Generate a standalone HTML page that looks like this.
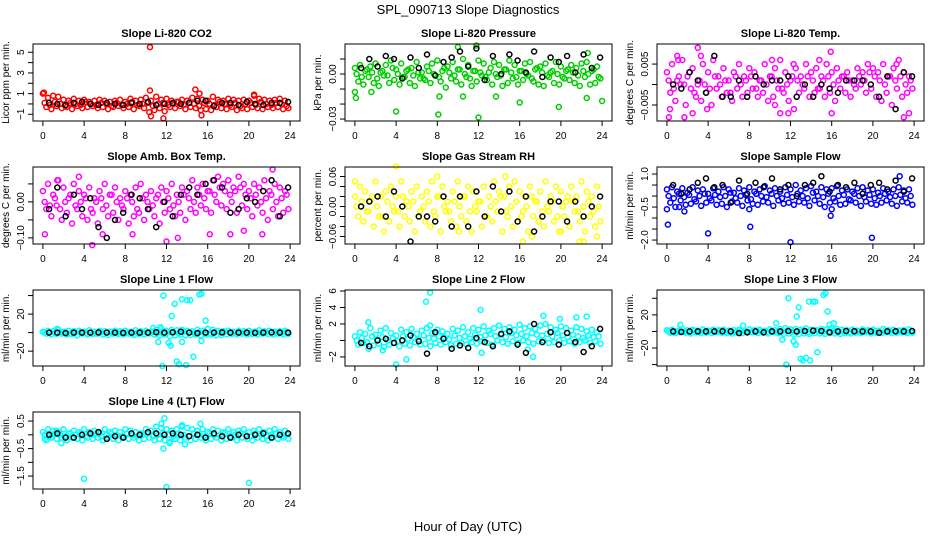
<!DOCTYPE html>
<html><head><meta charset="utf-8"><style>
html,body{margin:0;padding:0;background:#fff;}
svg{display:block;font-family:"Liberation Sans",Arial,sans-serif;}
</style></head><body>
<svg id="fig" width="936" height="540" viewBox="0 0 936 540" xmlns="http://www.w3.org/2000/svg">
<rect width="936" height="540" fill="#fff"/>
<text x="468" y="14" text-anchor="middle" font-size="13">SPL_090713  Slope Diagnostics</text>
<text x="468" y="531" text-anchor="middle" font-size="13">Hour of Day (UTC)</text>
</svg>
<script>
const xTicks=[0,4,8,12,16,20,24];
const hoursColored=[0,0.5,1,1.5,2,2.5,3,3.5,4,4.5,5,5.5,6,6.5,7,7.5,8,8.5,9,9.5,10,10.5,11,11.5,12,12.5,13,13.5,14,14.5,15,15.5,16,16.5,17,17.5,18,18.5,19,19.5,20,20.5,21,21.5,22,22.5,23,23.5];
const hoursBlack=[0.6,1.4,2.2,3.0,3.8,4.6,5.4,6.2,7.0,7.8,8.6,9.4,10.2,11.0,11.8,12.6,13.4,14.2,15.0,15.8,16.6,17.4,18.2,19.0,19.8,20.6,21.4,22.2,23.0,23.8];

const co2Hi=[1.0,0.6,0.8,0.7,0.4,0.3,0.5,0.3,0.4,0.2,0.3,0.4,0.3,0.2,0.3,0.4,0.2,0.5,0.3,0.4,0.6,0.3,0.7,0.4,0.5,0.3,0.2,0.4,0.3,0.6,0.5,0.4,0.3,0.7,0.4,0.3,0.5,0.4,0.3,0.4,0.3,0.8,0.5,0.4,0.3,0.4,0.5,0.3];
const co2Mid=[0.1,-0.1,0.2,0.0,-0.2,0.1,0.0,-0.1,0.2,0.0,-0.1,0.1,0.0,-0.2,0.1,-0.1,0.0,0.2,-0.1,0.0,0.1,-0.2,0.0,0.1,-0.1,0.0,0.2,-0.1,0.1,0.0,-0.2,0.1,0.0,-0.1,0.2,0.0,-0.1,0.1,-0.2,0.0,0.1,-0.1,0.2,0.0,-0.1,0.1,0.0,-0.2];
const co2Lo=[-0.3,-0.5,-0.2,-0.4,-0.3,-0.5,-0.2,-0.4,-0.3,-0.2,-0.4,-0.3,-0.5,-0.3,-0.2,-0.4,-0.3,-0.5,-0.2,-0.4,-0.8,-0.6,-0.4,-0.7,-0.3,-0.4,-0.2,-0.5,-0.3,-0.4,-0.6,-0.5,-0.6,-0.3,-0.4,-0.5,-0.3,-0.6,-0.4,-0.5,-0.3,-0.4,-0.5,-0.3,-0.4,-0.3,-0.5,-0.4];
const co2Black=[0.1,0,-0.1,0.1,0.2,0,-0.1,0.1,0,-0.1,0.1,0,0.2,-0.1,0,0.1,0,0.1,0.3,0.3,-0.2,0.1,0.1,-0.1,0.2,0,-0.1,0.1,0.1,0.2];
const co2OutH=[0.1,10.4,10.4,10.5,11.7,14.8,15.2,15.4,20.5];
const co2OutV=[1.1,5.5,1.3,-1.2,-1.4,1.4,1.0,-1.1,0.9];

const presHi=[0.004,0.006,0.002,0.005,0.007,0.001,0.006,0.009,0.003,0.007,0.002,0.004,0.008,0.001,0.005,0.007,0.009,0.002,0.005,0.008,0.003,0.010,0.006,0.002,0.009,0.007,0.001,0.008,0.006,0.003,0.009,0.006,0.002,0.007,0.008,0.003,0.005,0.007,0.001,0.008,0.005,0.002,0.006,0.004,0.007,0.008,0.002,0.005];
const presMid=[0.000,-0.002,0.003,0.001,-0.003,0.002,-0.001,0.004,0.000,-0.002,0.003,-0.001,0.001,-0.003,0.002,0.000,-0.002,0.004,0.001,-0.001,0.003,0.000,-0.003,0.002,0.001,-0.002,0.004,0.000,-0.001,0.003,0.001,-0.002,0.002,0.000,-0.003,0.004,0.001,-0.001,0.002,0.000,-0.002,0.003,0.001,-0.001,0.002,0.000,0.003,-0.002];
const presLo=[-0.005,-0.007,-0.002,-0.006,-0.008,-0.001,-0.006,-0.004,-0.007,-0.002,-0.006,-0.008,-0.003,-0.004,-0.006,-0.001,-0.005,-0.009,-0.003,-0.005,-0.007,-0.002,-0.008,-0.005,-0.001,-0.004,-0.007,-0.002,-0.008,-0.006,-0.003,-0.007,-0.004,-0.001,-0.005,-0.007,-0.008,-0.002,-0.006,-0.007,-0.003,-0.004,-0.006,-0.008,-0.002,-0.007,-0.006,-0.003];
const presBlack=[0.004,0.010,0.005,0.012,0.010,-0.003,0.011,0.004,0.013,-0.001,0.008,0.011,0.015,0.005,0.017,-0.004,0.012,0.000,0.013,0.009,0.001,0.015,-0.002,0.011,0.008,0.012,0.001,0.013,0.004,0.011];
const presOutH=[0,0.1,1.6,4.0,8.1,8.2,10.0,10.5,11.8,12.0,13.7,16.0,19.8,22.5,22.6,24.0];
const presOutV=[-0.012,-0.016,-0.012,-0.025,-0.027,-0.015,0.018,-0.015,0.019,-0.029,-0.015,-0.019,-0.022,-0.016,0.014,-0.018];

const tempHi=[0.003,0.005,0.001,0.006,0.002,0.004,0.000,0.005,0.003,0.006,0.002,0.004,0.001,0.003,0.005,0.002,0.004,0.003,0.001,0.005,0.002,0.004,0.006,0.003,0.001,0.004,0.002,0.005,0.003,0.004,0.002,0.005,0.003,0.004,0.002,0.003,0.001,0.004,0.003,0.005,0.004,0.003,0.005,0.002,0.004,0.006,0.003,0.002];
const tempMid=[0.001,-0.001,0.002,0.000,0.003,-0.002,0.001,0.000,-0.001,0.002,0.000,0.001,-0.002,0.002,0.000,0.001,0.002,-0.001,0.001,0.000,0.002,0.001,-0.001,0.000,0.002,0.001,0.000,0.002,0.001,-0.001,0.001,0.002,0.000,0.001,0.002,0.001,0.000,0.002,0.001,0.003,0.002,0.001,0.000,0.002,0.001,0.002,0.000,0.001];
const tempLo=[-0.002,-0.004,0.000,-0.005,-0.001,-0.003,-0.004,-0.002,-0.005,-0.001,-0.003,-0.002,-0.004,-0.001,-0.003,-0.002,-0.001,-0.003,-0.002,-0.004,-0.003,-0.001,-0.002,-0.004,-0.006,-0.002,-0.001,-0.003,-0.002,-0.001,-0.003,-0.002,-0.004,-0.001,-0.002,-0.003,-0.001,0.000,-0.002,-0.001,-0.003,-0.004,-0.002,-0.005,-0.001,-0.003,-0.002,-0.001];
const tempBlack=[0.000,-0.001,0.003,0.001,-0.002,0.007,-0.003,-0.003,0.001,-0.003,0.002,0.000,0.001,0.001,0.002,-0.003,0.000,-0.003,0.000,-0.001,-0.002,0.001,0.001,0.001,0.000,-0.003,0.002,-0.006,0.003,0.002];
const tempOutH=[0.2,0.3,1.0,1.1,1.7,2.5,3.0,3.3,3.9,10.2,10.5,11.0,11.8,12.3,14.8,15.9,16.0,22.3,23.0,23.5];
const tempOutV=[-0.008,-0.006,0.007,0.006,-0.008,-0.007,0.009,0.007,-0.006,0.006,-0.005,-0.007,-0.007,0.005,0.006,0.008,-0.007,0.005,-0.008,-0.007];

const boxHi=[0.03,0.05,0.02,0.06,0.04,0.01,0.05,0.03,0.02,0.04,0.01,0.03,0.05,0.02,0.04,0.01,0.03,0.02,0.04,0.05,0.02,0.03,0.01,0.04,0.03,0.05,0.02,0.04,0.03,0.06,0.04,0.05,0.03,0.06,0.07,0.05,0.06,0.04,0.07,0.05,0.03,0.05,0.04,0.06,0.03,0.05,0.04,0.03];
const boxMid=[0.00,-0.01,0.01,-0.02,0.00,0.02,-0.01,0.00,0.01,-0.02,0.00,0.01,-0.01,0.02,0.00,-0.01,0.01,0.00,-0.02,0.01,0.00,-0.01,0.02,0.00,0.01,-0.01,0.00,0.02,0.01,0.00,0.02,0.01,0.03,0.02,0.04,0.03,0.02,0.03,0.04,0.02,0.01,0.02,0.00,0.01,0.02,0.00,0.01,0.02];
const boxLo=[-0.02,-0.04,-0.01,-0.05,-0.03,-0.06,-0.02,-0.04,-0.05,-0.03,-0.06,-0.02,-0.04,-0.03,-0.05,-0.02,-0.06,-0.04,-0.03,-0.05,-0.02,-0.04,-0.06,-0.03,-0.02,-0.04,-0.03,-0.05,-0.02,-0.03,-0.01,-0.02,-0.03,0.00,-0.01,-0.02,0.00,-0.03,-0.01,-0.02,-0.04,-0.01,-0.03,-0.05,-0.02,-0.04,-0.03,-0.02];
const boxBlack=[-0.02,0.04,-0.04,0.02,-0.02,0.01,-0.07,-0.1,-0.05,-0.03,0.02,0.01,-0.02,-0.07,0.0,-0.04,0.02,0.04,0.02,0.05,0.06,0.04,-0.03,-0.02,0.01,0.00,0.03,0.06,-0.04,0.04];
const boxOutH=[0.2,1.4,3.5,4.8,5.8,8.7,12.0,13.1,16.2,18.2,19.5,21.3,22.3];
const boxOutV=[-0.09,0.06,0.07,-0.12,-0.09,-0.09,-0.11,-0.10,-0.09,-0.09,-0.08,-0.09,0.09];

const rhHi=[0.02,0.04,0.03,0.01,0.05,0.02,0.03,0.04,0.02,0.05,0.01,0.03,0.04,0.02,0.03,0.05,0.02,0.04,0.01,0.03,0.05,0.02,0.04,0.03,0.01,0.04,0.02,0.05,0.03,0.02,0.04,0.05,0.03,0.02,0.04,0.01,0.03,0.05,0.02,0.04,0.03,0.01,0.04,0.02,0.05,0.03,0.02,0.04];
const rhMid=[0.00,0.01,-0.01,0.02,0.00,-0.02,0.01,0.00,-0.01,0.02,0.00,0.01,-0.02,0.00,0.01,-0.01,0.02,0.00,-0.01,0.01,0.00,0.02,-0.01,0.00,0.01,-0.02,0.00,0.01,0.02,-0.01,0.00,0.01,-0.02,0.00,0.02,0.01,-0.01,0.00,0.01,-0.02,0.00,0.02,0.01,-0.01,0.00,0.01,-0.01,0.00];
const rhLo=[-0.02,-0.03,-0.01,-0.04,-0.02,-0.05,-0.03,-0.01,-0.04,-0.02,-0.03,-0.05,-0.01,-0.03,-0.04,-0.02,-0.05,-0.01,-0.03,-0.04,-0.02,-0.03,-0.05,-0.01,-0.04,-0.02,-0.03,-0.01,-0.05,-0.02,-0.04,-0.03,-0.01,-0.05,-0.02,-0.03,-0.04,-0.01,-0.03,-0.05,-0.02,-0.04,-0.01,-0.03,-0.05,-0.02,-0.04,-0.03];
const rhBlack=[0.00,0.01,0.02,-0.02,0.03,0.00,-0.07,-0.02,-0.02,-0.03,0.02,-0.04,0.02,-0.04,0.03,-0.02,0.04,-0.01,0.03,-0.03,0.02,-0.05,-0.02,0.01,0.01,-0.03,0.01,-0.02,0.00,0.02];
const rhOutH=[0.0,4.0,8.0,10.1,14.6,16.3,17.2,20.0,21.8,22.2,23.5];
const rhOutV=[0.05,0.08,0.06,-0.05,0.06,-0.07,-0.06,-0.05,-0.07,-0.07,-0.06];

const flowHi=[0.3,0.4,0.2,0.35,0.15,0.4,0.25,0.3,0.1,0.35,0.2,0.4,0.3,0.15,0.35,0.25,0.4,0.2,0.3,0.45,0.25,0.35,0.2,0.4,0.3,0.5,0.25,0.35,0.45,0.2,0.4,0.3,0.35,0.45,0.25,0.3,0.2,0.35,0.4,0.25,0.3,0.15,0.35,0.2,0.3,0.4,0.25,0.3];
const flowMid=[0.0,-0.1,0.1,-0.05,0.05,-0.15,0.0,0.1,-0.1,0.05,-0.05,0.0,0.15,-0.1,0.0,0.05,-0.15,0.1,0.0,-0.05,0.1,0.0,-0.1,0.05,-0.05,0.1,0.0,-0.1,0.15,0.0,-0.05,0.1,-0.1,0.0,0.05,-0.15,0.1,0.0,-0.05,0.05,-0.1,0.0,0.1,-0.05,0.0,0.05,-0.1,0.0];
const flowLo=[-0.3,-0.5,-0.2,-0.4,-0.35,-0.25,-0.45,-0.3,-0.2,-0.4,-0.35,-0.5,-0.25,-0.3,-0.45,-0.2,-0.35,-0.4,-0.25,-0.3,-0.45,-0.2,-0.35,-0.3,-0.4,-0.25,-0.3,-0.45,-0.2,-0.35,-0.5,-0.3,-0.25,-0.4,-0.35,-0.2,-0.3,-0.45,-0.25,-0.35,-0.4,-0.3,-0.2,-0.35,-0.45,-0.25,-0.3,-0.4];
const flowBlack=[0.5,0.1,0.3,0.6,0.8,0.4,0.5,-0.3,0.7,0.1,0.6,0.4,0.8,0.3,0.5,0.0,0.5,0.6,0.9,0.2,0.5,0.4,0.6,0.1,0.5,0.6,0.3,0.7,0.2,0.8];
const flowOutH=[0.0,0.1,1.2,1.7,4.0,8.0,8.1,12.0,15.9,16.0,19.9,22.6];
const flowOutV=[-0.6,-1.3,-0.5,-0.7,-1.7,-0.6,-1.4,-2.1,-0.9,-0.6,-1.9,0.9];

const l1Hi=[1,2,1.5,3,1,2,1.5,2,1,2.5,1,2,1.5,1,2,1.5,2,1,2.5,1.5,2,1,3,4,2,3,2.5,3,2,1.5,3,2,4,3,2,1.5,2,1,2,1.5,2,1,2.5,1.5,2,1,1.5,2];
const l1Mid=[0,0.5,-0.5,0,1,-1,0,0.5,-0.5,0,-1,0.5,0,1,-0.5,0,0.5,-1,0,0.5,-0.5,1,0,-1,0.5,0,-0.5,1,0,-0.5,0.5,0,-1,0.5,0,1,-0.5,0,0.5,-0.5,0,1,-0.5,0,0.5,-1,0,0.5];
const l1Lo=[-1,-2,-1.5,-1,-2,-1.5,-3,-1,-2,-1.5,-1,-2,-2.5,-1,-1.5,-2,-1,-2.5,-1.5,-2,-1,-2,-3,-2,-4,-3,-2,-3,-2.5,-2,-3,-2,-2,-3,-2.5,-2,-1.5,-2,-1,-2,-1.5,-2,-1,-1.5,-2,-1,-2,-1.5];
const l1Black=[0,0,-0.5,0,0,0,0.3,0,0,-0.3,0,0,0,0.5,0,0.5,1,0,-0.5,0,0,0.3,0,0,0,-0.3,0,0.3,0,0];
const l1OutH=[1.4,10.7,11.2,11.4,11.6,11.7,12.2,12.4,12.5,12.8,13.0,13.2,13.5,13.5,13.9,14.0,14.3,14.6,15.2,15.4,15.4,15.8,16.0];
const l1OutV=[4,5,-10,6,-36,40,-11,-14,18,31,-31,-34,-10,36,-35,35,35,-26,41,42,-9,13,4];

const l2Hi=[0.5,1,0.8,1.5,0.7,1.2,1.5,0.9,0.6,1.3,1,1.4,0.8,1.2,1.5,0.9,1.3,1.1,0.8,1.4,1.2,1.6,1,1.5,1.3,1.7,1.2,1.5,1.8,1.4,1.6,1.3,1.9,1.5,1.7,1.4,1.8,2,1.6,1.3,1.7,1.5,1.2,1.6,1.4,1.1,1.3,1];
const l2Mid=[0,0.3,-0.2,0.5,0.1,0.4,0,0.3,-0.1,0.5,0.2,0.4,0.1,0.6,0.3,0.2,0.5,0.4,0.1,0.6,0.3,0.5,0.2,0.7,0.4,0.6,0.8,0.5,0.7,0.4,0.9,0.6,0.8,0.5,0.9,0.7,0.6,0.8,0.5,0.9,0.6,0.4,0.7,0.5,0.3,0.6,0.4,0.5];
const l2Lo=[-0.5,-0.3,-1,-0.6,-0.4,-0.8,-0.5,-0.3,-0.7,-0.4,-0.6,-0.2,-0.5,-0.4,-0.7,-0.3,-0.5,-0.2,-0.6,-0.4,-0.3,-0.5,-0.2,-0.4,-0.1,-0.3,-0.5,0,-0.2,-0.4,-0.1,-0.3,0,-0.2,-0.4,-0.1,0,-0.3,-0.2,0,-0.3,-0.1,-0.4,-0.2,0,-0.3,-0.1,-0.4];
const l2Black=[-0.3,-0.7,0,0.2,-0.3,0,0.6,-0.1,-1.6,1.0,0.2,-1,-0.6,-0.9,0.3,-0.2,-0.7,0.8,1.1,-0.5,-1.5,2.0,-0.2,1.0,-0.5,0.9,-0.2,-1.4,-0.7,1.4];
const l2OutH=[1.3,2.7,4.0,5.0,6.9,7.3,7.3,12.2,12.3,16.8,17.3,18.3,19.9,21.5,22.5];
const l2OutV=[2.2,-1.2,-2.9,-2.3,4.7,5.8,1.8,3.7,-1.5,-1.1,-2,3.0,2.6,2.8,2.9];

const l3Hi=[1.5,2,1,3,1.5,2,1,2.5,1,2,1.5,2,1,1.5,2,1,2.5,1.5,2,1,2.5,1.5,3,4,2.5,3,2,3.5,2,1.5,3,2.5,4,3,2,1.5,2,1,2.5,1.5,2,1,3,1.5,2,1,1.5,2.5];
const l3Mid=[0,-0.5,0.5,0,-1,1,0,-0.5,0.5,0,1,-0.5,0,-1,0.5,0,-0.5,1,0,-0.5,0.5,-1,0,1,-0.5,0,0.5,-1,0,0.5,-0.5,0,1,-0.5,0,-1,0.5,0,-0.5,0.5,0,-1,0.5,0,-0.5,1,0,-0.5];
const l3Lo=[-1.5,-2,-1,-1.5,-2.5,-1,-2,-1.5,-2,-1,-1.5,-2,-2.5,-1,-2,-1.5,-1,-2,-1.5,-2.5,-1,-2,-3,-2.5,-4,-3,-2.5,-3,-2,-2.5,-3,-2,-2.5,-3,-2,-2.5,-1.5,-2,-1,-2.5,-1.5,-2,-1,-2,-1.5,-1,-2,-1.5];
const l3Black=[0,-0.5,0,0,0,0,0.3,0,-2,-1,0,-1,0,0,0.5,0,0.5,1,0.5,-1,0,0.5,0.3,0,0,-1.5,0,0.3,0,0.5];
const l3OutH=[1.3,7.4,10.6,11.2,11.6,11.8,12.3,12.5,12.6,12.8,13.0,13.2,13.5,13.8,13.9,14.2,14.4,14.6,15.2,15.4,15.6,15.8,16.2];
const l3OutV=[8,7,10,-10,-40,40,-12,-16,18,29,-33,-35,-32,36,-35,36,36,-25,44,46,24,8,10];

const l4Hi=[0.1,0.2,0.15,0.1,0.2,0.05,0.15,0.1,0.2,0.1,0.15,0.05,0.2,0.1,0.15,0.1,0.2,0.15,0.1,0.05,0.2,0.15,0.3,0.25,0.2,0.15,0.2,0.3,0.25,0.2,0.15,0.2,0.1,0.2,0.15,0.1,0.2,0.1,0.15,0.2,0.1,0.15,0.2,0.1,0.15,0.2,0.1,0.15];
const l4Mid=[0.0,-0.05,0.05,0.0,-0.05,0.05,0.0,0.05,-0.05,0.0,0.05,-0.05,0.0,0.05,0.0,-0.05,0.05,0.0,-0.05,0.0,0.05,-0.05,0.0,0.05,0.0,-0.05,0.05,0.0,-0.05,0.05,0.0,-0.05,0.05,0.0,0.0,0.05,-0.05,0.0,0.05,0.0,-0.05,0.05,0.0,-0.05,0.0,0.05,-0.05,0.0];
const l4Lo=[-0.2,-0.1,-0.15,-0.1,-0.2,-0.1,-0.15,-0.2,-0.1,-0.15,-0.1,-0.2,-0.1,-0.15,-0.2,-0.1,-0.15,-0.1,-0.2,-0.15,-0.1,-0.2,-0.15,-0.2,-0.25,-0.15,-0.2,-0.1,-0.2,-0.15,-0.1,-0.2,-0.15,-0.1,-0.2,-0.15,-0.1,-0.2,-0.1,-0.15,-0.2,-0.1,-0.15,-0.2,-0.1,-0.15,-0.1,-0.15];
const l4Black=[0.0,0.05,-0.1,-0.1,0.0,0.05,0.1,-0.15,-0.05,-0.1,0.05,0.0,0.1,0.05,0.0,0.05,0.0,-0.05,0.0,-0.1,0.05,-0.05,-0.1,0.0,-0.05,0.0,0.05,-0.1,0.0,0.05];
const l4OutH=[0.2,1.3,1.8,4.0,11.5,11.7,11.8,12.0,12.3,13.5,13.8,15.3,20.0];
const l4OutV=[-0.15,0.15,-0.3,-1.6,0.4,-0.5,0.6,-1.9,-0.3,0.35,-0.35,0.4,-1.75];

const NS="http://www.w3.org/2000/svg";
const svg=document.getElementById('fig');
const colL=[33,345,657], colR=[300,612,924];
const rowT=[44,167,290,412], rowB=[121,244,366,489];
function mk(tag,attrs,parent){const e=document.createElementNS(NS,tag);for(const k in attrs)e.setAttribute(k,attrs[k]);(parent||svg).appendChild(e);return e;}
const neg=v=>String(v).replace('-','\u2212');

const panels=[
 {key:'co2',title:'Slope Li-820 CO2',ylab:'Licor ppm per min.',col:'#ff0000',c:0,r:0,ymin:-1.65,ymax:5.8,ticks:[-1,0,1,2,3,4,5],labs:[-1,1,3,5],fmt:v=>neg(v),hi:co2Hi,mid:co2Mid,lo:co2Lo,bk:co2Black,oh:co2OutH,ov:co2OutV},
 {key:'pressure',title:'Slope Li-820 Pressure',ylab:'kPa per min.',col:'#00cd00',c:1,r:0,ymin:-0.0313,ymax:0.02,ticks:[-0.03,-0.02,-0.01,0,0.01],labs:[-0.03,0],fmt:v=>neg(v.toFixed(2)),hi:presHi,mid:presMid,lo:presLo,bk:presBlack,oh:presOutH,ov:presOutV},
 {key:'temp',title:'Slope Li-820 Temp.',ylab:'degrees C per min.',col:'#ff00ff',c:2,r:0,ymin:-0.0089,ymax:0.0099,ticks:[-0.005,0,0.005],labs:[-0.005,0.005],fmt:v=>neg(v.toFixed(3)),hi:tempHi,mid:tempMid,lo:tempLo,bk:tempBlack,oh:tempOutH,ov:tempOutV},
 {key:'boxtemp',title:'Slope Amb. Box Temp.',ylab:'degrees C per min.',col:'#ff00ff',c:0,r:1,ymin:-0.117,ymax:0.097,ticks:[-0.1,-0.05,0,0.05],labs:[-0.1,0],fmt:v=>neg(v.toFixed(2)),hi:boxHi,mid:boxMid,lo:boxLo,bk:boxBlack,oh:boxOutH,ov:boxOutV},
 {key:'rh',title:'Slope Gas Stream RH',ylab:'percent per min.',col:'#ffff00',c:1,r:1,ymin:-0.075,ymax:0.079,ticks:[-0.06,-0.04,-0.02,0,0.02,0.04,0.06],labs:[-0.06,0,0.06],fmt:v=>neg(v.toFixed(2)),hi:rhHi,mid:rhMid,lo:rhLo,bk:rhBlack,oh:rhOutH,ov:rhOutV},
 {key:'sampleflow',title:'Slope Sample Flow',ylab:'ml/min per min.',col:'#0000ff',c:2,r:1,ymin:-2.18,ymax:1.32,ticks:[-2,-1.5,-1,-0.5,0,0.5,1],labs:[-2,-0.5,1],fmt:v=>neg(v.toFixed(1)),hi:flowHi,mid:flowMid,lo:flowLo,bk:flowBlack,oh:flowOutH,ov:flowOutV},
 {key:'line1',title:'Slope Line 1 Flow',ylab:'ml/min per min.',col:'#00ffff',c:0,r:2,ymin:-36,ymax:46,ticks:[-20,0,20,40],labs:[-20,20],fmt:v=>neg(v),hi:l1Hi,mid:l1Mid,lo:l1Lo,bk:l1Black,oh:l1OutH,ov:l1OutV},
 {key:'line2',title:'Slope Line 2 Flow',ylab:'ml/min per min.',col:'#00ffff',c:1,r:2,ymin:-3.1,ymax:6.12,ticks:[-2,0,2,4,6],labs:[-2,2,4,6],fmt:v=>neg(v),hi:l2Hi,mid:l2Mid,lo:l2Lo,bk:l2Black,oh:l2OutH,ov:l2OutV},
 {key:'line3',title:'Slope Line 3 Flow',ylab:'ml/min per min.',col:'#00ffff',c:2,r:2,ymin:-41.7,ymax:50,ticks:[-40,-20,0,20,40],labs:[-20,20],fmt:v=>neg(v),hi:l3Hi,mid:l3Mid,lo:l3Lo,bk:l3Black,oh:l3OutH,ov:l3OutV},
 {key:'line4',title:'Slope Line 4 (LT) Flow',ylab:'ml/min per min.',col:'#00ffff',c:0,r:3,ymin:-1.97,ymax:0.83,ticks:[-1.5,-1,-0.5,0,0.5],labs:[-1.5,-0.5,0.5],fmt:v=>neg(v.toFixed(1)),hi:l4Hi,mid:l4Mid,lo:l4Lo,bk:l4Black,oh:l4OutH,ov:l4OutV}
];

panels.forEach(p=>{
 const L=colL[p.c],R=colR[p.c],T=rowT[p.r],B=rowB[p.r];
 const pad=(R-L)/(1+2*0.04)*0.04, x0=L+pad, x1=R-pad;
 const sx=h=>x0+(h/24)*(x1-x0);
 const sy=v=>B-(v-p.ymin)/(p.ymax-p.ymin)*(B-T);
 const g=mk('g',{});
 
 
 const t=mk('text',{x:(L+R)/2,y:T-7,'text-anchor':'middle','font-size':11,'font-weight':'bold'},g);
 t.textContent=p.title;
 
 
 const pts=mk('g',{fill:'none','stroke-width':1.5},g);
 
 
 function dot(h,v,color,name){
  const c=mk('circle',{cx:sx(h).toFixed(1),cy:sy(v).toFixed(1),r:2.5,stroke:color},pts);
  
  
 }
 hoursColored.forEach((h,i)=>{
  dot(h,p.hi[i],p.col,p.key+'-point');
  dot(h+0.17,p.mid[i],p.col,p.key+'-point');
  dot(h+0.33,p.lo[i],p.col,p.key+'-point');
 });
 p.oh.forEach((h,i)=>dot(h,p.ov[i],p.col,p.key+'-outlier'));
 hoursBlack.forEach((h,i)=>dot(h,p.bk[i],'#000',p.key+'-reference-point'));
 const box=mk('rect',{x:L,y:T,width:R-L,height:B-T,fill:'none',stroke:'#000','stroke-width':1},g);
 
 
 const xa=mk('g',{},g);
 
 
 mk('line',{x1:sx(0),x2:sx(24),y1:B,y2:B,stroke:'#000'},xa);
 xTicks.forEach(h=>{
  mk('line',{x1:sx(h),x2:sx(h),y1:B,y2:B+5,stroke:'#000'},xa);
  const tl=mk('text',{x:sx(h),y:B+18,'text-anchor':'middle','font-size':10},xa);
  tl.textContent=h;
  
  
 });
 const ya=mk('g',{},g);
 
 
 mk('line',{x1:L,x2:L,y1:sy(p.ticks[0]),y2:sy(p.ticks[p.ticks.length-1]),stroke:'#000'},ya);
 p.ticks.forEach(v=>mk('line',{x1:L-5,x2:L,y1:sy(v),y2:sy(v),stroke:'#000'},ya));
 p.labs.forEach(v=>{
  const yy=sy(v), xx=L-9;
  const tl=mk('text',{x:xx,y:yy,'text-anchor':'middle','font-size':10,transform:`rotate(-90 ${xx} ${yy})`},ya);
  tl.textContent=p.fmt(v);
  
  
 });
 const yl=L-24, ym=(T+B)/2;
 const yt=mk('text',{x:yl,y:ym,'text-anchor':'middle','font-size':10,transform:`rotate(-90 ${yl} ${ym})`},g);
 yt.textContent=p.ylab;
 
 
});
</script>
</body></html>
